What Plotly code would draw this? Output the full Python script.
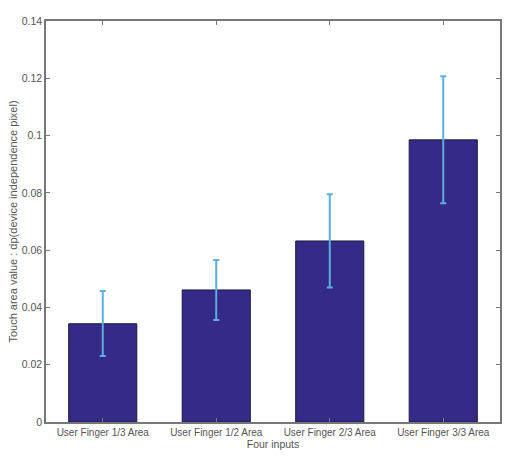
import plotly.graph_objects as go

categories = ["User Finger 1/3 Area", "User Finger 1/2 Area", "User Finger 2/3 Area", "User Finger 3/3 Area"]
values = [0.0343, 0.0461, 0.0632, 0.0985]
err_plus = [0.0114, 0.0105, 0.0163, 0.0222]
err_minus = [0.0113, 0.0105, 0.0162, 0.0221]
y_ticks = [0, 0.02, 0.04, 0.06, 0.08, 0.1, 0.12, 0.14]
y_tick_labels = ["0", "0.02", "0.04", "0.06", "0.08", "0.1", "0.12", "0.14"]

fig = go.Figure()
fig.add_trace(go.Bar(
    x=categories, y=values, width=0.6,
    marker=dict(color="#352a87", line=dict(color="#1a1a3a", width=1)),
    error_y=dict(type="data", array=err_plus, arrayminus=err_minus,
                 color="#5aaee0", thickness=2, width=3),
))
fig.update_layout(
    width=509, height=457,
    margin=dict(l=46, r=7, t=21, b=35),
    paper_bgcolor="white", plot_bgcolor="white",
    font=dict(family="Liberation Sans, Arial", size=10, color="#555"),
    showlegend=False, bargap=0.4,
)
fig.update_xaxes(
    showline=True, linecolor="#777", linewidth=1.5, mirror="ticks",
    ticks="inside", ticklen=4, tickcolor="#777",
    title=dict(text="Four inputs", standoff=3, font=dict(size=10.5, color="#555")),
    tickfont=dict(size=10, color="#555"),
)
fig.update_yaxes(
    range=[0, 0.14], tickvals=y_ticks, ticktext=y_tick_labels,
    showline=True, linecolor="#777", linewidth=1.5, mirror="ticks",
    ticks="inside", ticklen=4, tickcolor="#777", showgrid=False, zeroline=False,
    title=dict(text="Touch area value : dp(device independence pixel)", standoff=2, font=dict(size=11, color="#555")),
    tickfont=dict(size=10.5, color="#555"),
)
fig.write_html("out.html")
